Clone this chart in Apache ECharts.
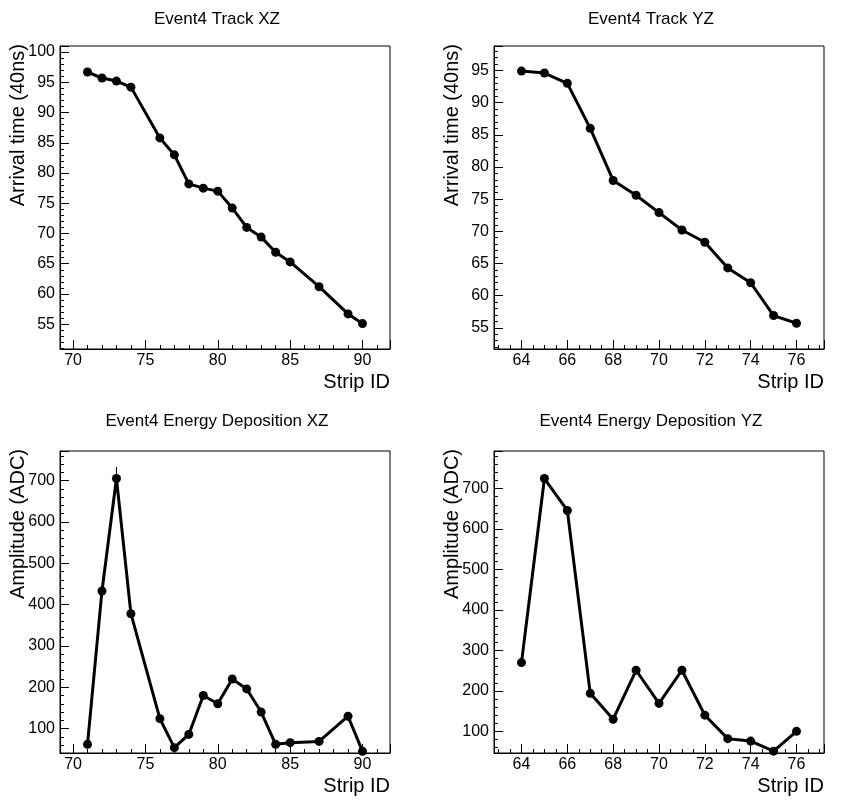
<!DOCTYPE html>
<html>
<head>
<meta charset="utf-8">
<script src="https://cdn.jsdelivr.net/npm/echarts@6/dist/echarts.min.js"></script>
<style>
html,body{margin:0;padding:0;background:#fff;}
#c{width:868px;height:809px;}
</style>
</head>
<body>
<div id="c"></div>
<script>
// ---- data ----
const stripXZ = [71,72,73,74,76,77,78,79,80,81,82,83,84,85,87,89,90];
const timeXZ = [96.7,95.7,95.2,94.2,85.8,83.0,78.2,77.5,77.0,74.2,71.0,69.4,66.9,65.3,61.2,56.7,55.1];
const ampXZ = [62,433,705,378,124,54,86,180,160,220,196,140,62,66,69,130,45];
const ampErrXZ = [0,0,28,0,0,0,0,0,0,0,0,0,0,0,0,0,0];

const stripYZ = [64,65,66,67,68,69,70,71,72,73,74,75,76];
const timeYZ = [94.9,94.6,93.0,86.0,77.9,75.6,72.9,70.2,68.3,64.3,62.0,56.9,55.7];
const ampYZ = [270,725,646,194,130,251,169,251,140,82,76,51,100];

const titles = ['Event4 Track XZ','Event4 Track YZ','Event4 Energy Deposition XZ','Event4 Energy Deposition YZ'];
const yTitles = ['Arrival time (40ns)','Arrival time (40ns)','Amplitude (ADC)','Amplitude (ADC)'];
const xTitle = 'Strip ID';

// ---- layout ----
const FONT = '"Liberation Sans", Arial, Helvetica, sans-serif';
const grids = [
  {left:60, top:46, width:330, height:303},
  {left:494, top:46, width:330, height:303},
  {left:60, top:451, width:330, height:302},
  {left:494, top:451, width:330, height:302}
];
const xRanges = [[69.1,91.9,5,5],[62.8,77.2,2,4],[69.1,91.9,5,5],[62.8,77.2,2,4]];
const yRanges = [[50.9,101.0,5,5],[51.7,98.8,5,5],[41,771.6,100,5],[46.5,793,100,5]];

function pair(xs, ys){ return xs.map((x,i)=>[x, ys[i]]); }
function triple(xs, ys, es){ return xs.map((x,i)=>[x, ys[i], es[i]]); }

const axisCommon = {
  type:'value',
  axisLine:{show:true, onZero:false, lineStyle:{color:'#000', width:1}},
  axisTick:{show:true, inside:true, length:9, lineStyle:{color:'#000', width:1}},
  minorTick:{show:true, length:4, lineStyle:{color:'#000', width:1}},
  splitLine:{show:false},
  axisLabel:{color:'#000', fontSize:16, fontFamily:FONT, showMinLabel:false, showMaxLabel:false}
};

const xAxis = xRanges.map((r,i)=>Object.assign({}, axisCommon, {
  gridIndex:i, min:r[0], max:r[1], minInterval:r[2], maxInterval:r[2], splitNumber:6,
  minorTick:Object.assign({}, axisCommon.minorTick, {splitNumber:r[3]}),
  axisLabel:Object.assign({}, axisCommon.axisLabel, {margin:4})
}));
const yAxis = yRanges.map((r,i)=>Object.assign({}, axisCommon, {
  gridIndex:i, min:r[0], max:r[1], minInterval:r[2], maxInterval:r[2], splitNumber:8,
  minorTick:Object.assign({}, axisCommon.minorTick, {splitNumber:r[3]}),
  axisLabel:Object.assign({}, axisCommon.axisLabel, {margin:5})
}));

const lineStyle = {color:'#000', width:3};
function lineSeries(i, data){
  return {type:'line', xAxisIndex:i, yAxisIndex:i, data:data, symbol:'circle', symbolSize:9,
    showSymbol:true, itemStyle:{color:'#000'}, lineStyle:lineStyle, z:3};
}

const series = [
  lineSeries(0, pair(stripXZ, timeXZ)),
  lineSeries(1, pair(stripYZ, timeYZ)),
  lineSeries(2, pair(stripXZ, ampXZ)),
  lineSeries(3, pair(stripYZ, ampYZ)),
  {type:'custom', xAxisIndex:2, yAxisIndex:2, data:triple(stripXZ, ampXZ, ampErrXZ), z:4,
    renderItem:function(params, api){
      const x = api.value(0), y = api.value(1), e = api.value(2);
      if(!(e > 0)) return null;
      const p1 = api.coord([x, y + e]);
      const p2 = api.coord([x, y - e]);
      return {type:'line', shape:{x1:p1[0], y1:p1[1], x2:p2[0], y2:p2[1]}, style:{stroke:'#000', lineWidth:1}};
    }}
];

const titleOpts = titles.map((t,i)=>({
  text:t, left:(i%2===0)?217:651, top:(i<2)?11:413, textAlign:'center', padding:0,
  textStyle:{fontSize:17, fontWeight:'normal', color:'#000', fontFamily:FONT}
}));

const graphics = [];
grids.forEach((g,i)=>{
  graphics.push({type:'text', x:g.left - 42, y:g.top - 2, rotation:Math.PI/2,
    style:{text:yTitles[i], textAlign:'right', textVerticalAlign:'middle', fill:'#000',
      font:'20px ' + FONT}});
  graphics.push({type:'text', x:g.left + g.width, y:g.top + g.height + 33,
    style:{text:xTitle, textAlign:'right', textVerticalAlign:'middle', fill:'#000',
      font:'20px ' + FONT}});
});

const chart = echarts.init(document.getElementById('c'), null, {renderer:'canvas'});
chart.setOption({
  animation:false,
  backgroundColor:'#fff',
  title:titleOpts,
  grid:grids.map(g=>Object.assign({show:true, borderColor:'#000', borderWidth:1, backgroundColor:'transparent', containLabel:false}, g)),
  xAxis:xAxis,
  yAxis:yAxis,
  series:series,
  graphic:graphics
});
</script>
</body>
</html>
